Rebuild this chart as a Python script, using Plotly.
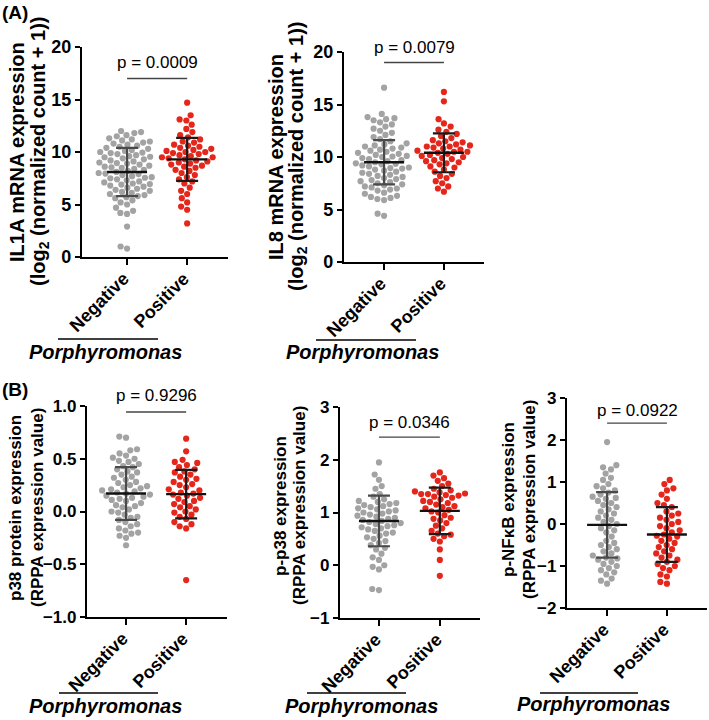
import numpy as np
import plotly.graph_objects as go

W, H = 709, 720
FONT = "Liberation Sans, Arial, sans-serif"

CATEGORIES = ["Negative", "Positive"]
GROUP_LABEL = "Porphyromonas"

# ---------------- data ----------------
IL1A_NEG = [0.8, 1.0, 2.9, 4.1, 4.2, 4.4, 4.7, 5.0, 5.2, 5.4, 5.6, 5.7, 5.8, 5.9,
            6.0, 6.1, 6.2, 6.3, 6.4, 6.5, 6.6, 6.7, 6.8, 6.9, 6.95,
            7.0, 7.1, 7.2, 7.3, 7.4, 7.5, 7.55, 7.6, 7.7, 7.8, 7.9, 7.95,
            8.0, 8.1, 8.2, 8.3, 8.4, 8.5, 8.55, 8.6, 8.7, 8.8, 8.9, 8.95,
            9.0, 9.1, 9.2, 9.3, 9.4, 9.5, 9.55, 9.6, 9.7, 9.8, 9.9, 9.95,
            10.0, 10.1, 10.2, 10.3, 10.4, 10.5, 10.6, 10.7, 10.8, 10.9,
            11.0, 11.1, 11.2, 11.3, 11.5, 11.6, 11.8, 11.9, 12.0]
IL1A_POS = [3.2, 4.5, 4.8, 5.2, 5.6, 6.0, 6.3, 6.6, 7.0, 7.2, 7.4, 7.6, 7.8,
            8.0, 8.2, 8.3, 8.5, 8.6, 8.7, 8.8, 8.9,
            9.0, 9.1, 9.2, 9.3, 9.4, 9.5, 9.5, 9.6, 9.7, 9.8, 9.9,
            10.0, 10.0, 10.1, 10.2, 10.3, 10.4, 10.5, 10.6, 10.7, 10.9,
            11.0, 11.2, 11.4, 11.6, 11.9, 12.2, 12.6, 13.0, 13.1, 13.5, 14.7]
IL8_NEG = [4.4, 4.6, 5.9, 6.0, 6.1, 6.2, 6.3, 6.5, 6.6, 6.8, 6.9,
           7.0, 7.1, 7.2, 7.3, 7.4, 7.5, 7.6, 7.7, 7.8, 7.9,
           8.0, 8.1, 8.2, 8.3, 8.4, 8.5, 8.6, 8.7, 8.8, 8.9, 8.95,
           9.0, 9.1, 9.2, 9.3, 9.35, 9.4, 9.5, 9.6, 9.7, 9.8, 9.9,
           10.0, 10.05, 10.1, 10.2, 10.3, 10.4, 10.5, 10.6, 10.7, 10.8, 10.9,
           11.0, 11.1, 11.2, 11.3, 11.5, 11.7, 11.9, 12.1, 12.3, 12.5, 12.7, 12.9,
           13.1, 13.3, 13.5, 13.6, 13.7, 13.8, 14.1, 16.6]
IL8_POS = [6.7, 7.0, 7.2, 7.5, 7.7, 8.0, 8.2, 8.4, 8.6, 8.8,
           9.0, 9.1, 9.3, 9.4, 9.5, 9.6, 9.7, 9.8, 9.9,
           10.0, 10.1, 10.2, 10.3, 10.4, 10.5, 10.5, 10.6, 10.7, 10.8, 10.9,
           11.0, 11.0, 11.1, 11.2, 11.3, 11.4, 11.5, 11.6, 11.8,
           12.0, 12.2, 12.4, 12.6, 12.9, 13.2, 13.6, 15.3, 16.2]
P38_NEG = [-0.32, -0.25, -0.23, -0.21, -0.2, -0.18, -0.16, -0.14, -0.12, -0.1,
           -0.08, -0.06, -0.05, -0.03, -0.01, 0.0, 0.02, 0.04, 0.05, 0.06, 0.08,
           0.1, 0.11, 0.12, 0.13, 0.14, 0.15, 0.16, 0.17, 0.18, 0.19, 0.2, 0.21,
           0.22, 0.23, 0.24, 0.25, 0.27, 0.28, 0.3, 0.32, 0.33, 0.35, 0.37, 0.38,
           0.4, 0.42, 0.43, 0.45, 0.47, 0.48, 0.5, 0.51, 0.53, 0.55, 0.58, 0.59,
           0.70, 0.71]
P38_POS = [-0.65, -0.16, -0.14, -0.12, -0.1, -0.07, -0.05, -0.03, -0.01, 0.0,
           0.02, 0.04, 0.05, 0.07, 0.09, 0.1, 0.12, 0.13, 0.15, 0.16, 0.17, 0.18,
           0.2, 0.21, 0.23, 0.25, 0.26, 0.28, 0.3, 0.31, 0.33, 0.35, 0.37, 0.38,
           0.4, 0.42, 0.44, 0.46, 0.47, 0.49, 0.57, 0.69]
PP38_NEG = [-0.47, -0.45, -0.08, -0.03, 0.0, 0.1, 0.15, 0.22, 0.3, 0.33, 0.38,
            0.42, 0.46, 0.5, 0.53, 0.56, 0.6, 0.62, 0.65, 0.68, 0.7, 0.72, 0.74,
            0.76, 0.78, 0.8, 0.82, 0.84, 0.86, 0.88, 0.9, 0.92, 0.94, 0.96, 0.98,
            1.0, 1.02, 1.04, 1.06, 1.08, 1.1, 1.12, 1.14, 1.16, 1.18, 1.2, 1.22,
            1.25, 1.3, 1.35, 1.45, 1.5, 1.62, 1.72, 1.95]
PP38_POS = [-0.2, 0.1, 0.3, 0.45, 0.5, 0.55, 0.58, 0.6, 0.65, 0.7, 0.75, 0.8,
            0.85, 0.88, 0.9, 0.95, 1.0, 1.02, 1.05, 1.08, 1.1, 1.12, 1.15, 1.18,
            1.2, 1.22, 1.25, 1.28, 1.3, 1.32, 1.33, 1.35, 1.35, 1.36, 1.38, 1.4,
            1.42, 1.45, 1.5, 1.55, 1.6, 1.65, 1.7, 1.76]
PNFKB_NEG = [-1.42, -1.35, -1.3, -1.2, -1.15, -1.1, -1.05, -1.0, -0.95, -0.9,
             -0.85, -0.82, -0.8, -0.75, -0.7, -0.65, -0.6, -0.55, -0.5, -0.45,
             -0.4, -0.3, -0.2, -0.15, -0.1, -0.05, 0.0, 0.05, 0.1, 0.15, 0.2,
             0.25, 0.3, 0.35, 0.4, 0.45, 0.5, 0.55, 0.6, 0.62, 0.65, 0.7, 0.75,
             0.8, 0.85, 0.9, 0.95, 1.05, 1.1, 1.2, 1.3, 1.35, 1.4, 1.95]
PNFKB_POS = [-1.42, -1.38, -1.25, -1.2, -1.1, -1.05, -1.0, -0.95, -0.9, -0.85,
             -0.8, -0.75, -0.7, -0.65, -0.6, -0.55, -0.5, -0.45, -0.4, -0.35,
             -0.3, -0.28, -0.25, -0.2, -0.15, -0.1, -0.05, 0.0, 0.05, 0.1, 0.15,
             0.2, 0.25, 0.3, 0.4, 0.45, 0.5, 0.6, 0.7, 0.8, 0.85, 0.95, 1.05]

# mean and SD (negative, positive)
IL1A_MEAN, IL1A_SD = [8.1, 9.3], [2.3, 2.05]
IL8_MEAN, IL8_SD = [9.5, 10.4], [2.1, 1.85]
P38_MEAN, P38_SD = [0.17, 0.165], [0.25, 0.23]
PP38_MEAN, PP38_SD = [0.84, 1.03], [0.48, 0.44]
PNFKB_MEAN, PNFKB_SD = [-0.02, -0.25], [0.78, 0.65]

P_VALUES = ["p = 0.0009", "p = 0.0079", "p = 0.9296", "p = 0.0346", "p = 0.0922"]

TITLES = [("IL1A mRNA expression", "(log<sub>2</sub> (normalized count + 1))"),
          ("IL8 mRNA expression", "(log<sub>2</sub> (normalized count + 1))"),
          ("p38 protein expression", "(RPPA expression value)"),
          ("p-p38 expression", "(RPPA expression value)"),
          ("p-NFκB expression", "(RPPA expression value)")]

Y_TICKS = [[0, 5, 10, 15, 20], [0, 5, 10, 15, 20],
           [-1.0, -0.5, 0.0, 0.5, 1.0], [-1, 0, 1, 2, 3], [-2, -1, 0, 1, 2, 3]]

# ---------------- layout geometry (pixels) ----------------
PANELS = [
    dict(neg=IL1A_NEG, pos=IL1A_POS, mean=IL1A_MEAN, sd=IL1A_SD,
         xpx=(82, 228), ypx=(47, 257), xr=(-0.75, 1.68), yr=(0, 20), fmt="d",
         pline=17.0, pshift=16, tx=(17, 39), ty=152, tfs=20, yfs=18,
         ul=(58, 158, 339), gl=(105, 352)),
    dict(neg=IL8_NEG, pos=IL8_POS, mean=IL8_MEAN, sd=IL8_SD,
         xpx=(344, 484), ypx=(52, 262), xr=(-0.67, 1.67), yr=(0, 20), fmt="d",
         pline=19.0, pshift=15, tx=(276, 297), ty=157, tfs=20, yfs=18,
         ul=(316, 416, 340), gl=(362, 352)),
    dict(neg=P38_NEG, pos=P38_POS, mean=P38_MEAN, sd=P38_SD,
         xpx=(87, 227), ypx=(406, 617), xr=(-0.65, 1.68), yr=(-1, 1), fmt=".1f",
         pline=0.943, pshift=17, tx=(15, 37), ty=508, tfs=17, yfs=17,
         ul=(59, 158, 693), gl=(105, 706)),
    dict(neg=PP38_NEG, pos=PP38_POS, mean=PP38_MEAN, sd=PP38_SD,
         xpx=(340, 480), ypx=(407, 618), xr=(-0.64, 1.66), yr=(-1, 3), fmt="d",
         pline=2.43, pshift=15, tx=(281, 300), ty=506, tfs=17, yfs=17,
         ul=(307, 406, 693), gl=(361, 706)),
    dict(neg=PNFKB_NEG, pos=PNFKB_POS, mean=PNFKB_MEAN, sd=PNFKB_SD,
         xpx=(567, 707), ypx=(398, 608), xr=(-0.67, 1.67), yr=(-2, 3), fmt="d",
         pline=2.40, pshift=13, tx=(508, 529), ty=500, tfs=17, yfs=17,
         ul=(540, 638, 693), gl=(593, 704)),
]

GRAY = "#a3a3a3"
RED = "#e5261b"
DOT = 6.2


def beeswarm(values, px_per_unit, d):
    ys = np.asarray(values, float) * px_per_unit
    order = np.argsort(ys, kind="stable")
    placed = []
    xs = np.zeros(len(ys))
    for idx in order:
        y = ys[idx]
        near = [(px, py) for px, py in placed if abs(py - y) < d]
        cands = [0.0]
        for px, py in near:
            dx = np.sqrt(max(d * d - (py - y) ** 2, 0.0))
            cands += [px + dx, px - dx]
        cands.sort(key=lambda c: (round(abs(c), 6), c))
        chosen = 0.0
        for c in cands:
            if all((c - px) ** 2 + (y - py) ** 2 >= d * d - 1e-6 for px, py in near):
                chosen = c
                break
        xs[idx] = chosen
        placed.append((chosen, y))
    return xs


fig = go.Figure()
layout = dict(width=W, height=H,
              margin=dict(l=0, r=0, t=0, b=0, pad=0, autoexpand=False),
              autosize=False, template="none",
              paper_bgcolor="white", plot_bgcolor="white", showlegend=False,
              font=dict(family=FONT, color="black"))
annotations = []
shapes = []

for k, p in enumerate(PANELS):
    n = "" if k == 0 else str(k + 1)
    xa, ya = "x" + n, "y" + n
    x0, x1 = p["xpx"]
    yt, yb = p["ypx"]
    px_per_cat = (x1 - x0) / (p["xr"][1] - p["xr"][0])
    px_per_unit = (yb - yt) / (p["yr"][1] - p["yr"][0])

    for i, (vals, col) in enumerate([(p["neg"], GRAY), (p["pos"], RED)]):
        off = beeswarm(vals, px_per_unit, DOT + 0.6) / px_per_cat
        fig.add_trace(go.Scatter(
            x=i + off, y=vals, mode="markers", xaxis=xa, yaxis=ya,
            marker=dict(size=DOT, color=col, line=dict(width=0)),
            hoverinfo="skip"))
    for i in range(2):
        m, s = p["mean"][i], p["sd"][i]
        wcol = "#4a4a4a" if i == 0 else "#1a1a1a"
        fig.add_trace(go.Scatter(
            x=[i], y=[m], mode="markers", xaxis=xa, yaxis=ya,
            marker=dict(size=1, opacity=0),
            error_y=dict(type="data", array=[s], visible=True, width=11,
                         thickness=2.2, color=wcol),
            hoverinfo="skip"))
        hw = 20 / px_per_cat
        fig.add_trace(go.Scatter(
            x=[i - hw, i + hw], y=[m, m], mode="lines", xaxis=xa, yaxis=ya,
            line=dict(color="#111111", width=2.4), hoverinfo="skip"))
    # p-value bar
    fig.add_trace(go.Scatter(
        x=[0, 1], y=[p["pline"], p["pline"]], mode="lines", xaxis=xa, yaxis=ya,
        line=dict(color="#444444", width=1.3), hoverinfo="skip", cliponaxis=False))
    annotations.append(dict(
        x=0.5, y=p["pline"], xref=xa, yref=ya, text=P_VALUES[k], showarrow=False,
        yshift=p["pshift"], font=dict(family=FONT, size=17, color="black")))

    layout["xaxis" + n] = dict(
        domain=[x0 / W, x1 / W], range=list(p["xr"]), anchor=ya, automargin=False,
        tickmode="array", tickvals=[0, 1], showticklabels=False,
        ticks="outside", ticklen=6, tickwidth=2.2, tickcolor="black",
        showline=True, linewidth=2.2, linecolor="black", showgrid=False,
        zeroline=False)
    layout["yaxis" + n] = dict(
        domain=[1 - yb / H, 1 - yt / H], range=list(p["yr"]), anchor=xa, automargin=False,
        tickmode="array", tickvals=Y_TICKS[k], tickformat=p["fmt"],
        ticks="outside", ticklen=5, tickwidth=2.2, tickcolor="black",
        showline=True, linewidth=2.2, linecolor="black", showgrid=False,
        zeroline=False, tickfont=dict(family=FONT, size=p["yfs"], weight="bold", color="black"))

    # rotated category labels, ending at each tick
    for i, cat in enumerate(CATEGORIES):
        annotations.append(dict(
            x=i, y=1 - (yb + 9) / H, xref=xa, yref="paper", text=cat,
            textangle=-45, showarrow=False, xanchor="right", yanchor="top",
            xshift=9, font=dict(family=FONT, size=18, weight="bold", color="black")))

    # y-axis titles (two lines)
    for j in range(2):
        annotations.append(dict(
            x=p["tx"][j] / W, y=1 - p["ty"] / H, xref="paper", yref="paper",
            text=TITLES[k][j], textangle=-90, showarrow=False,
            xanchor="center", yanchor="middle",
            font=dict(family=FONT, size=p["tfs"], weight="bold", color="black")))
    # group underline and label
    ux0, ux1, uy = p["ul"]
    shapes.append(dict(type="line", xref="paper", yref="paper",
                       x0=ux0 / W, x1=ux1 / W, y0=1 - uy / H, y1=1 - uy / H,
                       line=dict(color="black", width=1.5)))
    gx, gy = p["gl"]
    annotations.append(dict(
        x=gx / W, y=1 - gy / H, xref="paper", yref="paper", text=GROUP_LABEL,
        showarrow=False, xanchor="center", yanchor="middle",
        font=dict(family=FONT, size=20, weight="bold", style="italic", color="black")))

annotations.append(dict(x=0, y=1 - 12 / H, xref="paper", yref="paper", text="(A)",
                        showarrow=False, xanchor="left", yanchor="middle",
                        font=dict(family=FONT, size=19, weight="bold", color="black")))
annotations.append(dict(x=0, y=1 - 389 / H, xref="paper", yref="paper", text="(B)",
                        showarrow=False, xanchor="left", yanchor="middle",
                        font=dict(family=FONT, size=19, weight="bold", color="black")))

layout["annotations"] = annotations
layout["shapes"] = shapes
fig.update_layout(**layout)
fig.write_html("out.html")
